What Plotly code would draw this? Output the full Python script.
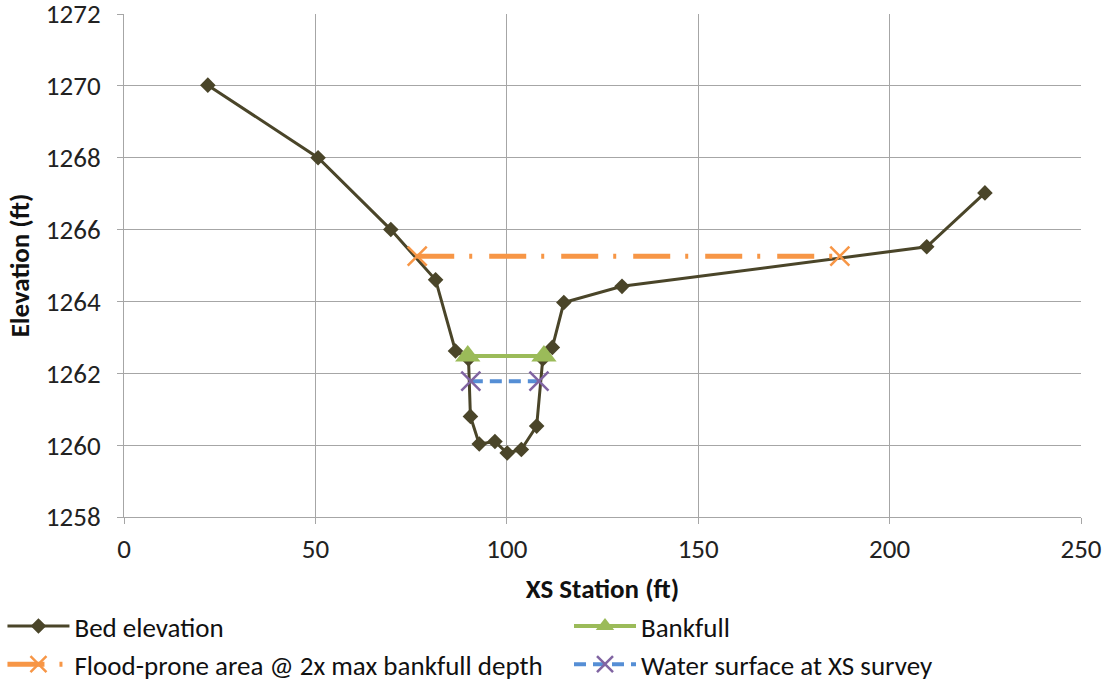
import plotly.graph_objects as go

# Data
bed_x = [21.9, 50.7, 69.7, 81.4, 86.6, 90.0, 90.5, 92.8, 96.9, 100.1, 103.8, 107.8, 109.4, 111.9, 114.9, 130.1, 209.7, 224.9]
bed_y = [1270.02, 1268.0, 1266.0, 1264.6, 1262.62, 1262.4, 1260.8, 1260.03, 1260.1, 1259.78, 1259.88, 1260.53, 1262.4, 1262.72, 1263.97, 1264.42, 1265.52, 1267.02]

bankfull_x = [89.8, 109.7]
bankfull_y = [1262.48, 1262.48]

flood_x = [76.6, 187.0]
flood_y = [1265.26, 1265.26]

ws_x = [90.6, 108.4]
ws_y = [1261.78, 1261.78]

series_names = ["Bed elevation", "Bankfull", "Flood-prone area @ 2x max bankfull depth", "Water surface at XS survey"]

FONT = "Carlito, Lato, sans-serif"
FS = 27

fig = go.Figure()
fig.add_trace(go.Scatter(
    x=bed_x, y=bed_y, name=series_names[0], mode="lines+markers",
    line=dict(color="#4A4529", width=3),
    marker=dict(symbol="diamond", size=12, color="#4A4529"),
    legend="legend",
))
fig.add_trace(go.Scatter(
    x=bankfull_x, y=bankfull_y, name=series_names[1], mode="lines+markers",
    line=dict(color="#9BBB59", width=4),
    marker=dict(symbol="triangle-up", size=22, color="#9BBB59"),
    legend="legend2",
))
fig.add_trace(go.Scatter(
    x=flood_x, y=flood_y, name=series_names[2], mode="lines+markers",
    line=dict(color="#F79646", width=5, dash="37px,15px,3px,17px"),
    marker=dict(symbol="x-thin", size=19, color="#F79646", line=dict(color="#F79646", width=2.5)),
    legend="legend",
))
fig.add_trace(go.Scatter(
    x=ws_x, y=ws_y, name=series_names[3], mode="lines+markers",
    line=dict(color="#558ED5", width=4, dash="12px,7px"),
    marker=dict(symbol="x-thin", size=19, color="#8064A2", line=dict(color="#8064A2", width=2.5)),
    legend="legend2",
))

axis_common = dict(
    showgrid=True, gridcolor="#A6A6A6", gridwidth=1,
    showline=True, linecolor="#A6A6A6", linewidth=1,
    ticks="outside", ticklen=6, tickcolor="#A6A6A6",
    tickfont=dict(family=FONT, size=FS, color="#222222"),
    zeroline=False, automargin=False, ticklabeloverflow="allow",
)

legend_common = dict(
    orientation="v", yanchor="top", y=-0.169, xanchor="left",
    font=dict(family=FONT, size=FS, color="#111111"),
    itemwidth=62, tracegroupgap=0, bgcolor="rgba(0,0,0,0)",
)

fig.update_layout(
    width=1110, height=682,
    margin=dict(l=124, r=29, t=14, b=165, autoexpand=False),
    plot_bgcolor="white", paper_bgcolor="white",
    font=dict(family=FONT, size=FS, color="#111111"),
    xaxis=dict(range=[0, 250], dtick=50, tick0=0, ticklabelstandoff=2,
               title=dict(text="<b>XS Station (ft)</b>", font=dict(family=FONT, size=FS), standoff=14),
               **axis_common),
    yaxis=dict(range=[1258, 1272], dtick=2, tick0=1258, ticklabelstandoff=11,
               title=dict(text="<b>Elevation (ft)</b>", font=dict(family=FONT, size=FS), standoff=8),
               **axis_common),
    legend=dict(x=-0.127, **legend_common),
    legend2=dict(x=0.465, **legend_common),
    showlegend=True,
)

# remove the default 8px page margin so the figure fills the window exactly
fig.write_html(
    "out.html",
    config={"displayModeBar": False},
    post_script="document.body.style.margin='0';document.body.style.overflow='hidden';",
)
